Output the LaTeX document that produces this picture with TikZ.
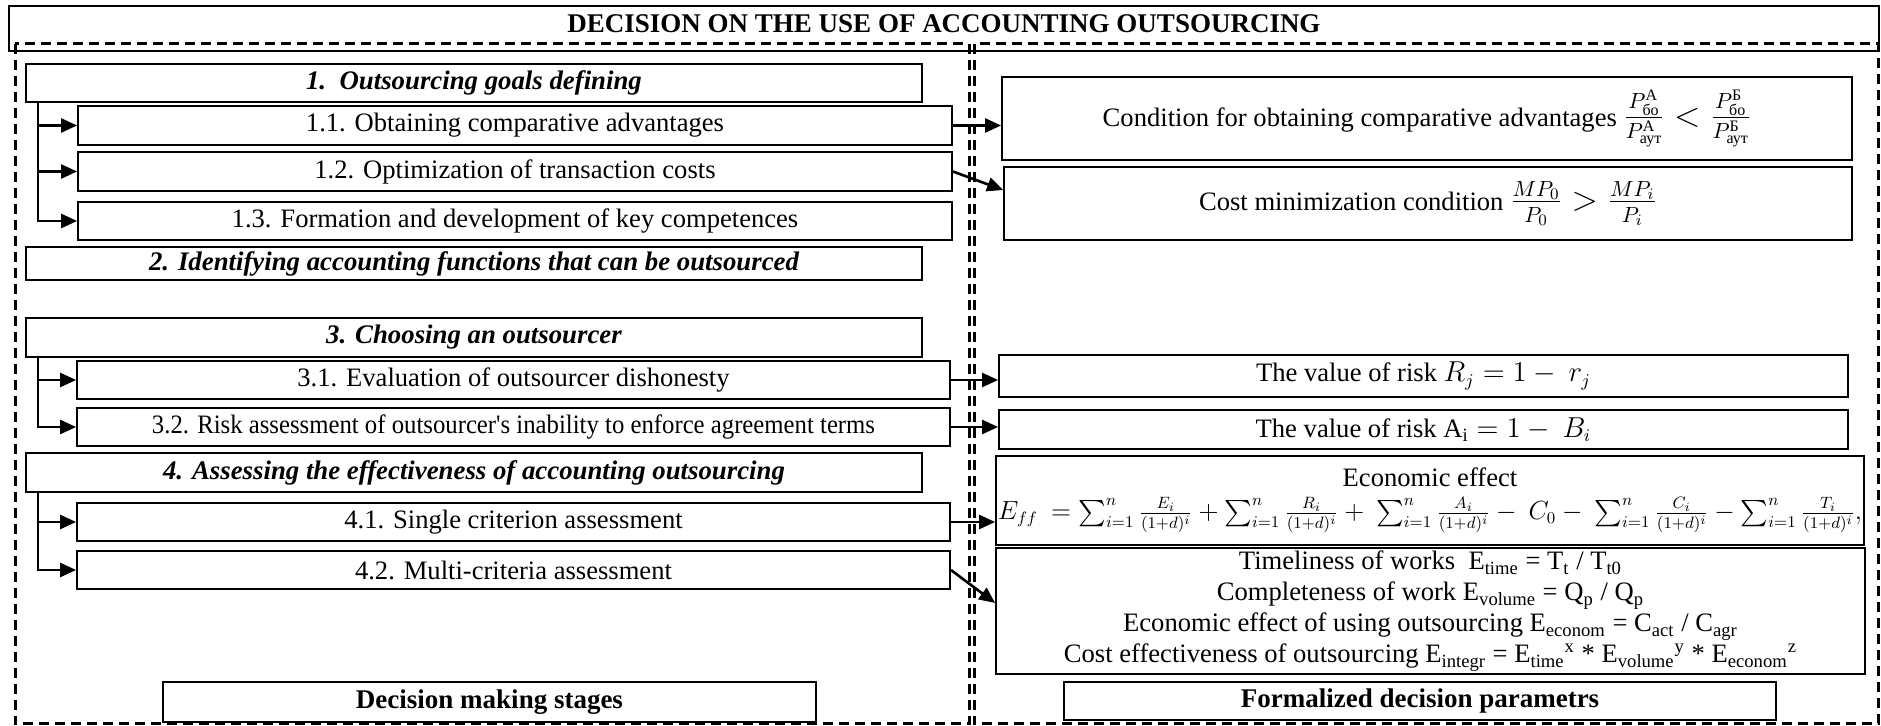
\documentclass[tikz,border=0pt]{standalone}
\usepackage{amsmath}
\usepackage{graphicx}
\usepackage{fontspec}
\setmainfont{Liberation Serif}
\usetikzlibrary{arrows.meta,calc}
\newcommand{\bodysize}{\fontsize{13.3}{15.5}\selectfont}
\newcommand{\headsize}{\fontsize{13.5}{16}\selectfont}
\newcommand{\fracsize}{\fontsize{16}{19}\selectfont}
\tikzset{
	box/.style={draw, line width=0.9pt, inner sep=0pt, align=center, font=\bodysize},
	stagebox/.style={box, font=\fontsize{13.4}{16}\selectfont\bfseries\itshape},
	labelbox/.style={box, font=\headsize\bfseries},
	zone/.style={line width=1.5pt, dash pattern=on 5pt off 3pt},
	arr/.style={line width=1.3pt, -{Triangle[length=8pt,width=7pt]}},
}

\begin{document}
\begin{tikzpicture}[x=0.5pt, y=-0.5pt]
		%%%%% START %%%%%
		\useasboundingbox (0,0) rectangle (1881,726);
		
		\draw[zone] (15,44) rectangle (969,724);
		\draw[zone] (974,44) rectangle (1878,724);
		\node[box, font=\headsize\bfseries, minimum width=935pt, minimum height=22.5pt, text depth=4.5pt] (title) at (944,28.5) {DECISION ON THE USE OF ACCOUNTING OUTSOURCING};
		
		% stages
		\node[stagebox, minimum width=448pt, minimum height=19pt] (s1) at (474,83) {1.\ \ Outsourcing goals defining};
		\node[box, minimum width=437pt, minimum height=19.5pt] (g11) at (515,125.5) {1.1. Obtaining comparative advantages};
		\node[box, minimum width=437pt, minimum height=19.5pt] (g12) at (515,171.5) {1.2. Optimization of transaction costs};
		\node[box, minimum width=437pt, minimum height=19pt] (g13) at (515,221) {1.3. Formation and development of key competences};
		\node[stagebox, minimum width=448pt, minimum height=16.5pt] (s2) at (474,263.5) {2. Identifying accounting functions that can be outsourced};
		
		\node[stagebox, minimum width=448pt, minimum height=19.5pt] (s3) at (474,337.5) {3. Choosing an outsourcer};
		\node[box, minimum width=436.5pt, minimum height=19pt] (c31) at (513.5,380) {3.1. Evaluation of outsourcer dishonesty};
		\node[box, minimum width=436.5pt, minimum height=19pt] (c32) at (513.5,427) {\scalebox{0.93}[1]{3.2. Risk assessment of outsourcer\textquotesingle s inability to enforce agreement terms}};
		
		\node[stagebox, minimum width=448pt, minimum height=19.5pt] (s4) at (474,472.5) {4. Assessing the effectiveness of accounting outsourcing};
		\node[box, minimum width=436.5pt, minimum height=19pt] (e41) at (513.5,522) {4.1. Single criterion assessment};
		\node[box, minimum width=436.5pt, minimum height=19pt] (e42) at (513.5,570) {4.2. Multi-criteria assessment};
		
		\node[labelbox, minimum width=326.5pt, minimum height=20pt] (stages) at (489.5,702) {Decision making stages};
		
		% parameters
		\node[box, minimum width=425pt, minimum height=41.5pt] (p11) at (1427,118.5) {Condition for obtaining comparative advantages {\fracsize$\frac{P^{\text{А}}_{\text{бо}}}{P^{\text{А}}_{\text{аут}}} < \frac{P^{\text{Б}}_{\text{бо}}}{P^{\text{Б}}_{\text{аут}}}$}};
		\node[box, minimum width=424pt, minimum height=36.5pt] (p12) at (1428,203.5) {Cost minimization condition {\fracsize$\frac{MP_0}{P_0} > \frac{MP_i}{P_i}$}};
		\node[box, minimum width=424.5pt, minimum height=21pt] (p31) at (1423.5,376) {The value of risk $R_j = 1 -\ r_j$};
		\node[box, minimum width=424.5pt, minimum height=19.5pt] (p32) at (1423.5,429.5) {The value of risk $\mathrm{A}_{\mathrm{i}} = 1 -\ B_i$};
		\node[box, minimum width=434pt, minimum height=44.5pt] (p41) at (1430,500.5) {Economic effect\\[1pt]
			\resizebox{432pt}{!}{$E_{ff}\ = \sum_{i=1}^{n}\frac{E_i}{(1+d)^i} + \sum_{i=1}^{n}\frac{R_i}{(1+d)^i} + \ \sum_{i=1}^{n}\frac{A_i}{(1+d)^i} -\ C_0 -\ \sum_{i=1}^{n}\frac{C_i}{(1+d)^i} - \sum_{i=1}^{n}\frac{T_i}{(1+d)^i},$}};
		\node[box, minimum width=434.5pt, minimum height=63pt] (p42) at (1430.5,611) {Timeliness of works\ \ E\textsubscript{time} = T\textsubscript{t} / T\textsubscript{t0}\\
			Completeness of work E\textsubscript{volume} = Q\textsubscript{p} / Q\textsubscript{p}\\
			Economic effect of using outsourcing E\textsubscript{econom} = C\textsubscript{act}\ / C\textsubscript{agr}\\
			Cost effectiveness of outsourcing E\textsubscript{integr} = E\textsubscript{time}\textsuperscript{x} * E\textsubscript{volume}\textsuperscript{y} * E\textsubscript{econom}\textsuperscript{z}};
		
		\node[labelbox, minimum width=356pt, minimum height=19pt] (params) at (1420,701) {Formalized decision parametrs};
		
		% branches
		\coordinate (b1) at ([xshift=6.5pt]s1.south west);
		\coordinate (b3) at ([xshift=6.5pt]s3.south west);
		\coordinate (b4) at ([xshift=6.5pt]s4.south west);
		\foreach \g in {g11,g12,g13} \draw[arr] (b1) |- (\g.west);
		\foreach \g in {c31,c32} \draw[arr] (b3) |- (\g.west);
		\foreach \g in {e41,e42} \draw[arr] (b4) |- (\g.west);
		
		% links
		\draw[arr] (g11.east) -- (g11.east -| p11.west);
		\draw[arr] (g12.east) -- ([yshift=6.75pt]p12.west);
		\draw[arr] (c31.east) -- (c31.east -| p31.west);
		\draw[arr] (c32.east) -- (c32.east -| p32.west);
		\draw[arr] (e41.east) -- (e41.east -| p41.west);
		\draw[arr] (e42.east) -- ([yshift=4pt]p42.west);
		
		%%%%% END %%%%%
\end{tikzpicture}
\end{document}
